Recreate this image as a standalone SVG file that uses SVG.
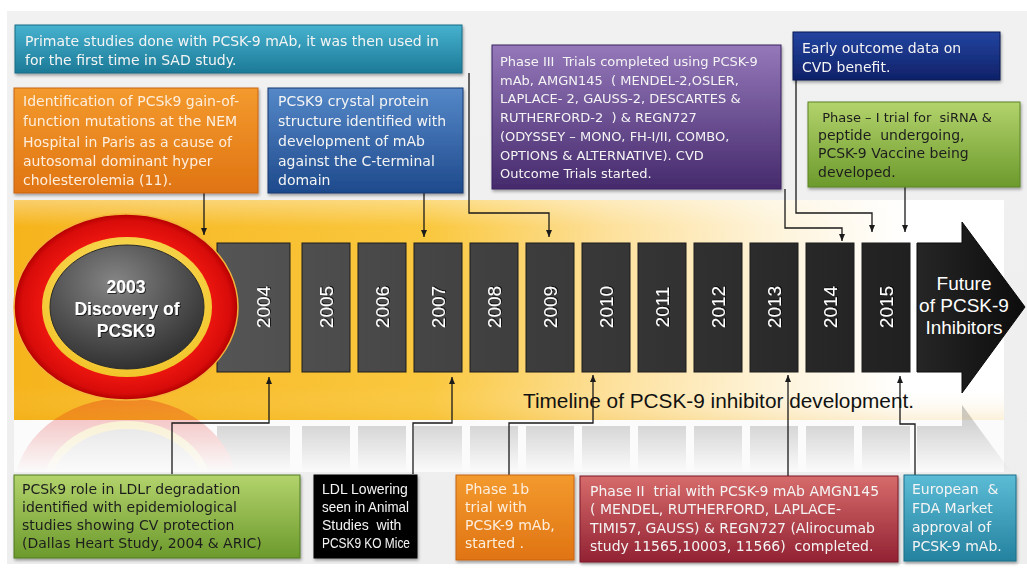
<svg xmlns="http://www.w3.org/2000/svg" width="1027" height="571" viewBox="0 0 1027 571">
  <style>
    .t { font-family: "DejaVu Sans", "Liberation Sans", sans-serif; font-size: 14px; fill: #f4f4f4; white-space: pre; }
    .s13 { font-size: 13px; }
    .nar { font-family: "Liberation Sans", Arial, sans-serif; font-size: 14px; }
    .dk { fill: #1e1e1e; }
    .cream { fill: #fdeedd; }
    .yr { font-family: "Liberation Sans", Arial, sans-serif; font-size: 19px; fill: #ffffff; }
    .big { font-family: "Liberation Sans", Arial, sans-serif; font-weight: bold; font-size: 17.5px; fill: #ffffff; }
    .fut { font-family: "Liberation Sans", Arial, sans-serif; font-size: 19px; fill: #ffffff; }
    .cap { font-family: "Liberation Sans", Arial, sans-serif; font-size: 20px; fill: #111111; }
    .con { fill: none; stroke: #1a1a1a; stroke-width: 1.3; }
    .blk { fill: url(#blkG); stroke: #1c1c1c; stroke-width: 1; }
  </style>
  <defs>
    <linearGradient id="panelG" x1="0" y1="0" x2="0" y2="1">
      <stop offset="0" stop-color="#f1f1f1"/>
      <stop offset="1" stop-color="#eeeeee"/>
    </linearGradient>
    <linearGradient id="bandG" gradientUnits="userSpaceOnUse" x1="14" y1="0" x2="1004" y2="0">
      <stop offset="0" stop-color="#f6b41c"/>
      <stop offset="0.42" stop-color="#fac83f"/>
      <stop offset="0.6" stop-color="#fde09a"/>
      <stop offset="0.76" stop-color="#fef3d8"/>
      <stop offset="0.9" stop-color="#ffffff"/>
    </linearGradient>
    <linearGradient id="bandTop" x1="0" y1="0" x2="0" y2="1">
      <stop offset="0" stop-color="#ffffff" stop-opacity="0.35"/>
      <stop offset="0.12" stop-color="#ffffff" stop-opacity="0"/>
      <stop offset="0.85" stop-color="#ffffff" stop-opacity="0"/>
      <stop offset="1" stop-color="#e8a000" stop-opacity="0.15"/>
    </linearGradient>
    <linearGradient id="blkG" gradientUnits="userSpaceOnUse" x1="217" y1="0" x2="910" y2="0">
      <stop offset="0" stop-color="#555555"/>
      <stop offset="1" stop-color="#202020"/>
    </linearGradient>
    <linearGradient id="arrG" x1="0" y1="0" x2="1" y2="0">
      <stop offset="0" stop-color="#262626"/>
      <stop offset="1" stop-color="#0c0c0c"/>
    </linearGradient>
    <radialGradient id="redG" cx="0.5" cy="0.5" r="0.5">
      <stop offset="0.7" stop-color="#f21810"/>
      <stop offset="0.93" stop-color="#d80c0a"/>
      <stop offset="1" stop-color="#b30000"/>
    </radialGradient>
    <radialGradient id="yelG" cx="0.5" cy="0.4" r="0.6">
      <stop offset="0" stop-color="#fde878"/>
      <stop offset="1" stop-color="#f2c42a"/>
    </radialGradient>
    <radialGradient id="grayG" cx="0.42" cy="0.3" r="0.75">
      <stop offset="0" stop-color="#858585"/>
      <stop offset="0.6" stop-color="#4e4e4e"/>
      <stop offset="1" stop-color="#2c2c2c"/>
    </radialGradient>
    <linearGradient id="tealG" x1="0" y1="0" x2="0" y2="1">
      <stop offset="0" stop-color="#46b2cf"/>
      <stop offset="1" stop-color="#1c7a97"/>
    </linearGradient>
    <linearGradient id="orG" x1="0" y1="0" x2="0" y2="1">
      <stop offset="0" stop-color="#f39a2e"/>
      <stop offset="1" stop-color="#e07412"/>
    </linearGradient>
    <linearGradient id="blueG" x1="0" y1="0" x2="0" y2="1">
      <stop offset="0" stop-color="#5588c8"/>
      <stop offset="1" stop-color="#1e4a8c"/>
    </linearGradient>
    <linearGradient id="purG" x1="0" y1="0" x2="0" y2="1">
      <stop offset="0" stop-color="#9478ba"/>
      <stop offset="1" stop-color="#452a6c"/>
    </linearGradient>
    <linearGradient id="navG" x1="0" y1="0" x2="0" y2="1">
      <stop offset="0" stop-color="#2344a0"/>
      <stop offset="1" stop-color="#0f2168"/>
    </linearGradient>
    <linearGradient id="grnG" x1="0" y1="0" x2="0" y2="1">
      <stop offset="0" stop-color="#b3d36c"/>
      <stop offset="1" stop-color="#6c9a2c"/>
    </linearGradient>
    <linearGradient id="redBoxG" x1="0" y1="0" x2="0" y2="1">
      <stop offset="0" stop-color="#d66b6b"/>
      <stop offset="1" stop-color="#922233"/>
    </linearGradient>
    <linearGradient id="teal2G" x1="0" y1="0" x2="0" y2="1">
      <stop offset="0" stop-color="#5cbcd6"/>
      <stop offset="1" stop-color="#24829f"/>
    </linearGradient>
    <linearGradient id="fadeG" gradientUnits="userSpaceOnUse" x1="0" y1="399" x2="0" y2="472">
      <stop offset="0" stop-color="#ffffff" stop-opacity="0.3"/>
      <stop offset="1" stop-color="#ffffff" stop-opacity="0"/>
    </linearGradient>
    <mask id="fadeM" maskUnits="userSpaceOnUse" x="0" y="399" width="1027" height="80">
      <rect x="0" y="399" width="1027" height="80" fill="url(#fadeG)"/>
    </mask>
    <filter id="shadow" x="-10%" y="-10%" width="125%" height="130%">
      <feDropShadow dx="1" dy="2" stdDeviation="1.5" flood-color="#000" flood-opacity="0.35"/>
    </filter>
    <filter id="tshadow" x="-10%" y="-10%" width="130%" height="140%">
      <feDropShadow dx="1" dy="1" stdDeviation="0.7" flood-color="#000" flood-opacity="0.7"/>
    </filter>
    <marker id="ah" viewBox="0 0 7 6" refX="7" refY="3" markerWidth="7" markerHeight="6" markerUnits="userSpaceOnUse" orient="auto">
      <path d="M0,0 L7,3 L0,6 z" fill="#1a1a1a"/>
    </marker>
  </defs>

  <!-- slide background -->
  <rect x="0" y="0" width="1027" height="571" fill="#ffffff"/>
  <rect x="7" y="11" width="1020" height="553" fill="url(#panelG)"/>

  <!-- timeline band -->
  <rect x="14" y="200" width="990" height="220" fill="url(#bandG)"/>
  <rect x="14" y="200" width="990" height="220" fill="url(#bandTop)"/>
  <rect x="14" y="420" width="990" height="52" fill="#ffffff" opacity="0.75"/>

  <!-- mirrored reflection of the timeline -->
  <g id="reflection" mask="url(#fadeM)">
    <rect x="217" y="426" width="73" height="129" fill="#3a3a3a"/>
    <rect x="302" y="426" width="48" height="129" fill="#3a3a3a"/>
    <rect x="358" y="426" width="48" height="129" fill="#3a3a3a"/>
    <rect x="414" y="426" width="48" height="129" fill="#3a3a3a"/>
    <rect x="470" y="426" width="48" height="129" fill="#3a3a3a"/>
    <rect x="526" y="426" width="48" height="129" fill="#3a3a3a"/>
    <rect x="582" y="426" width="48" height="129" fill="#3a3a3a"/>
    <rect x="638" y="426" width="48" height="129" fill="#3a3a3a"/>
    <rect x="694" y="426" width="48" height="129" fill="#3a3a3a"/>
    <rect x="750" y="426" width="48" height="129" fill="#3a3a3a"/>
    <rect x="806" y="426" width="48" height="129" fill="#3a3a3a"/>
    <rect x="862" y="426" width="48" height="129" fill="#3a3a3a"/>
    <polygon points="917,426 962,426 962,405 1025,491 962,576 962,555 917,555" fill="#3a3a3a"/>
    <ellipse cx="126" cy="491" rx="112" ry="93" fill="#e01010"/>
    <ellipse cx="127" cy="491" rx="85" ry="70" fill="#f7d040"/>
    <ellipse cx="127" cy="491" rx="77" ry="62" fill="#9a9a9a"/>
  </g>

  <!-- timeline: year blocks -->
  <g id="y2004"><rect class="blk" x="217" y="243" width="73" height="129"/><text class="yr" filter="url(#tshadow)" text-anchor="middle" transform="translate(263,307) rotate(-90)" dy="0.35em">2004</text></g>
  <g id="y2005"><rect class="blk" x="302" y="243" width="48" height="129"/><text class="yr" filter="url(#tshadow)" text-anchor="middle" transform="translate(326,307) rotate(-90)" dy="0.35em">2005</text></g>
  <g id="y2006"><rect class="blk" x="358" y="243" width="48" height="129"/><text class="yr" filter="url(#tshadow)" text-anchor="middle" transform="translate(382,307) rotate(-90)" dy="0.35em">2006</text></g>
  <g id="y2007"><rect class="blk" x="414" y="243" width="48" height="129"/><text class="yr" filter="url(#tshadow)" text-anchor="middle" transform="translate(438,307) rotate(-90)" dy="0.35em">2007</text></g>
  <g id="y2008"><rect class="blk" x="470" y="243" width="48" height="129"/><text class="yr" filter="url(#tshadow)" text-anchor="middle" transform="translate(494,307) rotate(-90)" dy="0.35em">2008</text></g>
  <g id="y2009"><rect class="blk" x="526" y="243" width="48" height="129"/><text class="yr" filter="url(#tshadow)" text-anchor="middle" transform="translate(550,307) rotate(-90)" dy="0.35em">2009</text></g>
  <g id="y2010"><rect class="blk" x="582" y="243" width="48" height="129"/><text class="yr" filter="url(#tshadow)" text-anchor="middle" transform="translate(606,307) rotate(-90)" dy="0.35em">2010</text></g>
  <g id="y2011"><rect class="blk" x="638" y="243" width="48" height="129"/><text class="yr" filter="url(#tshadow)" text-anchor="middle" transform="translate(662,307) rotate(-90)" dy="0.35em">2011</text></g>
  <g id="y2012"><rect class="blk" x="694" y="243" width="48" height="129"/><text class="yr" filter="url(#tshadow)" text-anchor="middle" transform="translate(718,307) rotate(-90)" dy="0.35em">2012</text></g>
  <g id="y2013"><rect class="blk" x="750" y="243" width="48" height="129"/><text class="yr" filter="url(#tshadow)" text-anchor="middle" transform="translate(774,307) rotate(-90)" dy="0.35em">2013</text></g>
  <g id="y2014"><rect class="blk" x="806" y="243" width="48" height="129"/><text class="yr" filter="url(#tshadow)" text-anchor="middle" transform="translate(830,307) rotate(-90)" dy="0.35em">2014</text></g>
  <g id="y2015"><rect class="blk" x="862" y="243" width="48" height="129"/><text class="yr" filter="url(#tshadow)" text-anchor="middle" transform="translate(886,307) rotate(-90)" dy="0.35em">2015</text></g>

  <!-- future arrow -->
  <g id="future">
    <polygon points="917,243 962,243 962,222 1025,307 962,393 962,372 917,372" fill="url(#arrG)" stroke="#0a0a0a" stroke-width="1"/>
    <text class="fut" text-anchor="middle" x="964" y="290">Future</text>
    <text class="fut" text-anchor="middle" x="964" y="312">of PCSK-9</text>
    <text class="fut" text-anchor="middle" x="964" y="334">Inhibitors</text>
  </g>

  <!-- 2003 discovery ring -->
  <g id="y2003">
    <ellipse cx="126" cy="307" rx="112" ry="93" fill="url(#redG)" stroke="#f3b23a" stroke-width="1.5"/>
    <ellipse cx="127" cy="307" rx="85" ry="70" fill="url(#yelG)"/>
    <ellipse cx="127" cy="307" rx="77" ry="62" fill="url(#grayG)" stroke="#2a2a2a" stroke-width="1"/>
    <text class="big" filter="url(#tshadow)" text-anchor="middle" x="126" y="293">2003</text>
    <text class="big" filter="url(#tshadow)" text-anchor="middle" x="127" y="315">Discovery of</text>
    <text class="big" filter="url(#tshadow)" text-anchor="middle" x="126" y="337">PCSK9</text>
  </g>

  <!-- caption -->
  <text class="cap" x="523" y="408" textLength="391" lengthAdjust="spacingAndGlyphs">Timeline of PCSK-9 inhibitor development.</text>

  <!-- connectors -->
  <g id="connectors">
    <path class="con" d="M204,193 V235" marker-end="url(#ah)"/>
    <path class="con" d="M424,193 V237" marker-end="url(#ah)"/>
    <path class="con" d="M469,73 V213 H549 V237" marker-end="url(#ah)"/>
    <path class="con" d="M785,189 V228 H842 V241" marker-end="url(#ah)"/>
    <path class="con" d="M796,80 V213 H872 V232" marker-end="url(#ah)"/>
    <path class="con" d="M905,187 V232" marker-end="url(#ah)"/>
    <path class="con" d="M172,474 V423 H269 V377" marker-end="url(#ah)"/>
    <path class="con" d="M413,474 V423 H452 V377" marker-end="url(#ah)"/>
    <path class="con" d="M509,475 V423 H593 V375" marker-end="url(#ah)"/>
    <path class="con" d="M788,476 V375" marker-end="url(#ah)"/>
    <path class="con" d="M915,475 V424 H900 V376" marker-end="url(#ah)"/>
  </g>

  <!-- upper event boxes -->
  <g id="primate" filter="url(#shadow)">
    <rect x="15" y="25" width="447" height="48" fill="url(#tealG)" stroke="#186c86" stroke-width="1"/>
    <text class="t" x="25" y="46">Primate studies done with PCSK-9 mAb, it was then used in</text>
    <text class="t" x="25" y="65">for the first time in SAD study.</text>
  </g>
  <g id="gof" filter="url(#shadow)">
    <rect x="14" y="88" width="244" height="105" fill="url(#orG)" stroke="#c86410" stroke-width="1"/>
    <text class="t cream" x="23" y="106">Identification of PCSk9 gain-of-</text>
    <text class="t cream" x="23" y="126">function mutations at the NEM</text>
    <text class="t cream" x="23" y="147">Hospital in Paris as a cause of</text>
    <text class="t cream" x="23" y="166">autosomal dominant hyper</text>
    <text class="t cream" x="23" y="185">cholesterolemia (11).</text>
  </g>
  <g id="crystal" filter="url(#shadow)">
    <rect x="268" y="88" width="195" height="105" fill="url(#blueG)" stroke="#17396e" stroke-width="1"/>
    <text class="t" x="278" y="106">PCSK9 crystal protein</text>
    <text class="t" x="278" y="126">structure identified with</text>
    <text class="t" x="278" y="146">development of mAb</text>
    <text class="t" x="278" y="166">against the C-terminal</text>
    <text class="t" x="278" y="185">domain</text>
  </g>
  <g id="phase3" filter="url(#shadow)">
    <rect x="492" y="45" width="289" height="144" fill="url(#purG)" stroke="#3a2260" stroke-width="1"/>
    <text class="t s13" x="500" y="66">Phase III  Trials completed using PCSK-9</text>
    <text class="t s13" x="500" y="85">mAb, AMGN145  ( MENDEL-2,OSLER,</text>
    <text class="t s13" x="500" y="103">LAPLACE- 2, GAUSS-2, DESCARTES &amp;</text>
    <text class="t s13" x="500" y="122">RUTHERFORD-2  ) &amp; REGN727</text>
    <text class="t s13" x="500" y="141">(ODYSSEY – MONO, FH-I/II, COMBO,</text>
    <text class="t s13" x="500" y="160">OPTIONS &amp; ALTERNATIVE). CVD</text>
    <text class="t s13" x="500" y="178">Outcome Trials started.</text>
  </g>
  <g id="outcome" filter="url(#shadow)">
    <rect x="793" y="32" width="207" height="48" fill="url(#navG)" stroke="#0a1850" stroke-width="1"/>
    <text class="t" x="802" y="53">Early outcome data on</text>
    <text class="t" x="802" y="72">CVD benefit.</text>
  </g>
  <g id="phase1" filter="url(#shadow)">
    <rect x="808" y="102" width="212" height="85" fill="url(#grnG)" stroke="#5a8424" stroke-width="1"/>
    <text class="t dk s13" x="818" y="122"> Phase – I trial for  siRNA &amp;</text>
    <text class="t dk" x="818" y="140">peptide  undergoing,</text>
    <text class="t dk" x="818" y="158">PCSK-9 Vaccine being</text>
    <text class="t dk" x="818" y="177">developed.</text>
  </g>

  <!-- lower event boxes -->
  <g id="ldlr" filter="url(#shadow)">
    <rect x="14" y="475" width="286" height="83" fill="url(#grnG)" stroke="#4e7a20" stroke-width="1"/>
    <text class="t dk" x="22" y="494">PCSk9 role in LDLr degradation</text>
    <text class="t dk" x="22" y="512">identified with epidemiological</text>
    <text class="t dk" x="22" y="530">studies showing CV protection</text>
    <text class="t dk" x="22" y="548">(Dallas Heart Study, 2004 &amp; ARIC)</text>
  </g>
  <g id="animal" filter="url(#shadow)">
    <rect x="314" y="475" width="103" height="83" fill="#050505" stroke="#000" stroke-width="1"/>
    <text class="t nar" x="322" y="494">LDL Lowering</text>
    <text class="t nar" x="322" y="512" textLength="87" lengthAdjust="spacingAndGlyphs">seen in Animal</text>
    <text class="t nar" x="322" y="530">Studies  with</text>
    <text class="t nar" x="322" y="548" textLength="88" lengthAdjust="spacingAndGlyphs">PCSK9 KO Mice</text>
  </g>
  <g id="phase1b" filter="url(#shadow)">
    <rect x="456" y="475" width="118" height="85" fill="url(#orG)" stroke="#c86410" stroke-width="1"/>
    <text class="t cream" x="465" y="494">Phase 1b</text>
    <text class="t cream" x="465" y="512">trial with</text>
    <text class="t cream" x="465" y="530">PCSK-9 mAb,</text>
    <text class="t cream" x="465" y="548">started .</text>
  </g>
  <g id="phase2" filter="url(#shadow)">
    <rect x="580" y="476" width="318" height="86" fill="url(#redBoxG)" stroke="#7a1a28" stroke-width="1"/>
    <text class="t" x="590" y="496">Phase II  trial with PCSK-9 mAb AMGN145</text>
    <text class="t" x="590" y="514">( MENDEL, RUTHERFORD, LAPLACE-</text>
    <text class="t" x="590" y="533">TIMI57, GAUSS) &amp; REGN727 (Alirocumab</text>
    <text class="t" x="590" y="551">study 11565,10003, 11566)  completed.</text>
  </g>
  <g id="approval" filter="url(#shadow)">
    <rect x="904" y="475" width="112" height="86" fill="url(#teal2G)" stroke="#1c6e88" stroke-width="1"/>
    <text class="t" x="912" y="494">European  &amp;</text>
    <text class="t" x="912" y="513">FDA Market</text>
    <text class="t" x="912" y="532">approval of</text>
    <text class="t" x="912" y="551">PCSK-9 mAb.</text>
  </g>
</svg>
